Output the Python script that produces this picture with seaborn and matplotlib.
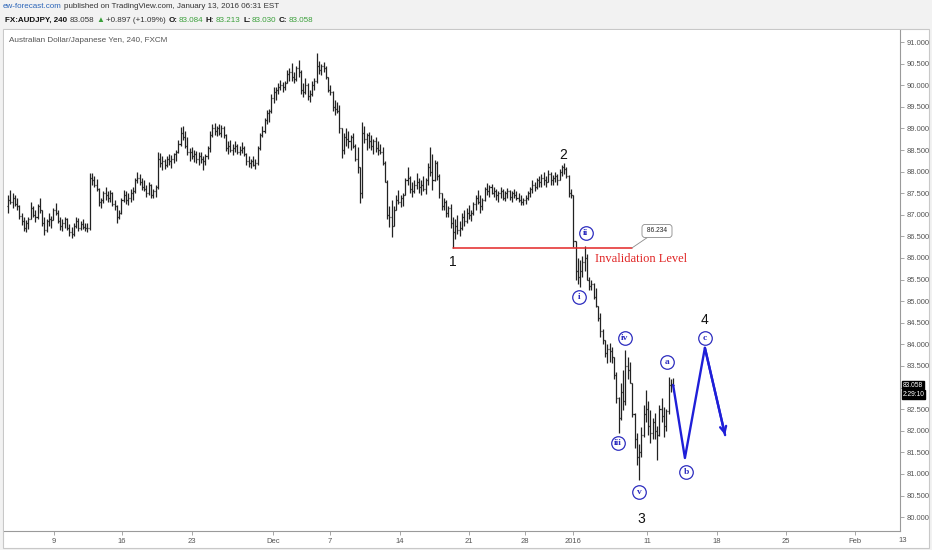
import numpy as np
import pandas as pd
import matplotlib.pyplot as plt
import matplotlib.transforms as mtransforms
from matplotlib.patches import Rectangle
import seaborn as sns

# --- AUDJPY 240 bars (one value per 4h bar) ---
highs = [
    87.45, 87.58, 87.50, 87.46, 87.40, 87.22, 87.05, 86.95, 86.88, 86.95,
    87.30, 87.20, 87.11, 87.25, 87.39, 87.12, 86.95, 86.90, 87.04, 86.98,
    87.15, 87.27, 87.10, 86.95, 86.90, 86.95, 86.92, 86.78, 86.72, 86.81,
    86.95, 86.92, 86.85, 86.90, 86.82, 86.80, 87.97, 87.97, 87.90, 87.82,
    87.62, 87.40, 87.55, 87.64, 87.55, 87.57, 87.52, 87.35, 87.22, 87.10,
    87.40, 87.57, 87.55, 87.50, 87.60, 87.64, 87.85, 88.00, 87.95, 87.85,
    87.80, 87.70, 87.76, 87.72, 87.60, 87.70, 88.45, 88.43, 88.35, 88.30,
    88.35, 88.40, 88.38, 88.43, 88.50, 88.72, 89.03, 89.05, 88.95, 88.80,
    88.55, 88.57, 88.50, 88.48, 88.45, 88.45, 88.35, 88.40, 88.60, 88.95,
    89.10, 89.12, 89.05, 89.10, 89.08, 89.05, 88.86, 88.70, 88.73, 88.65,
    88.70, 88.65, 88.60, 88.68, 88.60, 88.43, 88.35, 88.30, 88.35, 88.30,
    88.60, 88.90, 89.05, 89.25, 89.43, 89.45, 89.80, 89.96, 89.95, 90.05,
    90.12, 90.08, 90.10, 90.35, 90.40, 90.51, 90.30, 90.45, 90.58, 90.35,
    90.05, 90.17, 90.05, 89.90, 90.10, 90.17, 90.75, 90.55, 90.50, 90.54,
    90.45, 90.20, 90.00, 89.86, 89.65, 89.60, 89.54, 89.00, 88.90, 89.00,
    88.95, 88.85, 88.90, 88.65, 88.57, 88.11, 89.15, 89.05, 88.90, 88.92,
    88.85, 88.75, 88.80, 88.70, 88.65, 88.57, 88.25, 87.80, 87.20, 87.34,
    87.20, 87.45, 87.57, 87.45, 87.50, 87.85, 88.11, 87.90, 87.75, 87.80,
    87.97, 87.85, 87.80, 87.90, 87.85, 88.20, 88.57, 88.40, 88.27, 88.25,
    87.95, 87.50, 87.40, 87.34, 87.20, 87.25, 86.95, 86.90, 87.00, 86.85,
    87.05, 87.10, 87.15, 87.23, 87.10, 87.30, 87.45, 87.57, 87.45, 87.40,
    87.65, 87.74, 87.70, 87.72, 87.65, 87.60, 87.55, 87.64, 87.60, 87.55,
    87.62, 87.58, 87.55, 87.60, 87.55, 87.50, 87.46, 87.40, 87.45, 87.55,
    87.65, 87.80, 87.75, 87.85, 87.90, 87.95, 88.00, 87.90, 88.04, 87.98,
    87.92, 88.00, 87.95, 88.05, 88.15, 88.20, 88.10, 87.92, 87.60, 87.45,
    86.40, 86.00, 85.95, 86.05, 86.28, 86.10, 85.55, 85.49, 85.42, 85.30,
    84.90, 84.73, 84.35, 84.10, 84.00, 84.03, 83.95, 83.70, 83.35, 82.78,
    83.10, 83.40, 83.87, 83.71, 83.60, 83.10, 82.41, 81.95, 81.70, 82.09,
    82.60, 82.94, 82.70, 82.48, 82.30, 82.41, 82.10, 82.60, 82.76, 82.55,
    82.50, 83.25, 83.20, 83.213,
]
lows = [
    87.05, 87.25, 87.15, 87.20, 87.12, 86.90, 86.76, 86.62, 86.60, 86.68,
    86.90, 86.95, 86.83, 86.90, 87.05, 86.75, 86.53, 86.60, 86.75, 86.70,
    86.88, 87.00, 86.80, 86.65, 86.62, 86.70, 86.65, 86.50, 86.46, 86.52,
    86.70, 86.62, 86.65, 86.68, 86.62, 86.60, 86.65, 87.70, 87.64, 87.55,
    87.20, 87.16, 87.27, 87.35, 87.30, 87.30, 87.20, 87.11, 86.81, 86.90,
    87.02, 87.30, 87.25, 87.23, 87.30, 87.35, 87.50, 87.74, 87.70, 87.57,
    87.55, 87.42, 87.45, 87.39, 87.40, 87.41, 87.60, 88.10, 88.04, 88.05,
    88.10, 88.15, 88.08, 88.20, 88.25, 88.43, 88.60, 88.73, 88.55, 88.38,
    88.25, 88.30, 88.22, 88.20, 88.15, 88.20, 88.04, 88.15, 88.30, 88.45,
    88.80, 88.85, 88.82, 88.85, 88.80, 88.78, 88.48, 88.40, 88.45, 88.38,
    88.45, 88.40, 88.38, 88.42, 88.35, 88.15, 88.10, 88.08, 88.12, 88.05,
    88.15, 88.50, 88.80, 88.90, 89.10, 89.15, 89.35, 89.59, 89.65, 89.80,
    89.89, 89.85, 89.90, 90.05, 90.10, 90.10, 90.05, 90.10, 90.20, 89.80,
    89.73, 89.80, 89.65, 89.61, 89.75, 89.90, 90.05, 90.25, 90.24, 90.30,
    90.15, 89.85, 89.77, 89.40, 89.31, 89.35, 88.90, 88.31, 88.40, 88.60,
    88.55, 88.50, 88.55, 88.25, 87.97, 87.27, 87.40, 88.66, 88.50, 88.55,
    88.50, 88.40, 88.45, 88.38, 88.40, 88.15, 87.97, 86.90, 86.72, 86.49,
    86.75, 87.10, 87.25, 87.18, 87.20, 87.45, 87.70, 87.50, 87.41, 87.50,
    87.60, 87.50, 87.45, 87.55, 87.48, 87.70, 87.90, 87.57, 87.78, 87.80,
    87.40, 87.10, 87.12, 86.95, 86.95, 86.70, 86.23, 86.45, 86.55, 86.50,
    86.65, 86.75, 86.80, 86.90, 86.85, 87.00, 87.10, 87.25, 87.04, 87.10,
    87.33, 87.45, 87.42, 87.48, 87.41, 87.35, 87.30, 87.40, 87.35, 87.32,
    87.38, 87.35, 87.30, 87.40, 87.35, 87.30, 87.23, 87.23, 87.25, 87.35,
    87.41, 87.50, 87.55, 87.60, 87.65, 87.64, 87.70, 87.65, 87.75, 87.70,
    87.68, 87.75, 87.70, 87.80, 87.90, 87.95, 87.85, 87.41, 87.40, 86.25,
    85.50, 85.40, 85.33, 85.55, 85.70, 85.49, 85.26, 85.25, 85.05, 84.87,
    84.55, 84.17, 84.00, 83.70, 83.57, 83.60, 83.57, 83.20, 82.64, 81.95,
    82.25, 82.48, 82.60, 83.20, 83.10, 82.32, 81.60, 81.20, 80.86, 81.40,
    81.86, 82.20, 81.90, 81.72, 81.80, 81.80, 81.32, 81.88, 82.20, 81.86,
    82.00, 82.40, 82.90, 83.03,
]
closes = [
    87.35, 87.30, 87.40, 87.25, 87.20, 86.98, 86.85, 86.70, 86.80, 86.90,
    87.15, 87.00, 86.95, 87.20, 87.10, 86.80, 86.65, 86.85, 86.90, 86.88,
    87.10, 87.05, 86.85, 86.75, 86.80, 86.90, 86.70, 86.60, 86.55, 86.75,
    86.85, 86.70, 86.78, 86.72, 86.70, 86.70, 87.85, 87.80, 87.70, 87.60,
    87.30, 87.35, 87.50, 87.45, 87.40, 87.50, 87.25, 87.20, 86.95, 87.05,
    87.35, 87.45, 87.35, 87.40, 87.50, 87.55, 87.80, 87.85, 87.75, 87.65,
    87.60, 87.50, 87.70, 87.45, 87.55, 87.65, 88.30, 88.20, 88.25, 88.15,
    88.30, 88.25, 88.30, 88.40, 88.45, 88.65, 88.90, 88.80, 88.60, 88.45,
    88.45, 88.35, 88.40, 88.30, 88.35, 88.30, 88.25, 88.35, 88.55, 88.85,
    89.00, 88.95, 89.00, 88.90, 89.00, 88.85, 88.55, 88.60, 88.50, 88.55,
    88.60, 88.45, 88.50, 88.55, 88.40, 88.25, 88.20, 88.25, 88.15, 88.20,
    88.55, 88.85, 88.95, 89.20, 89.35, 89.40, 89.70, 89.85, 89.90, 89.95,
    90.00, 89.95, 90.05, 90.25, 90.30, 90.20, 90.15, 90.40, 90.30, 89.90,
    89.85, 90.00, 89.75, 89.80, 90.00, 90.10, 90.45, 90.35, 90.45, 90.40,
    90.20, 89.90, 89.85, 89.50, 89.45, 89.40, 89.00, 88.50, 88.80, 88.75,
    88.70, 88.80, 88.60, 88.30, 88.10, 87.50, 88.90, 88.75, 88.85, 88.70,
    88.60, 88.70, 88.55, 88.50, 88.45, 88.20, 87.75, 87.00, 86.95, 86.75,
    87.10, 87.35, 87.30, 87.40, 87.45, 87.80, 87.85, 87.60, 87.55, 87.70,
    87.75, 87.65, 87.70, 87.60, 87.80, 88.10, 88.00, 87.80, 88.20, 87.90,
    87.50, 87.20, 87.30, 87.05, 87.15, 86.80, 86.60, 86.75, 86.65, 86.70,
    86.95, 86.85, 87.05, 87.00, 87.05, 87.25, 87.40, 87.30, 87.20, 87.35,
    87.60, 87.55, 87.65, 87.50, 87.55, 87.45, 87.50, 87.55, 87.40, 87.50,
    87.55, 87.42, 87.50, 87.45, 87.40, 87.35, 87.30, 87.35, 87.40, 87.50,
    87.60, 87.70, 87.65, 87.80, 87.75, 87.85, 87.80, 87.75, 87.95, 87.80,
    87.85, 87.90, 87.80, 88.00, 88.10, 88.05, 87.90, 87.50, 87.45, 86.40,
    85.70, 85.55, 85.70, 85.90, 86.00, 85.50, 85.35, 85.40, 85.10, 84.90,
    84.60, 84.30, 84.10, 83.80, 83.90, 83.85, 83.70, 83.30, 82.75, 82.30,
    82.90, 82.70, 83.50, 83.40, 83.10, 82.40, 81.80, 81.40, 81.50, 81.90,
    82.40, 82.50, 82.10, 81.95, 82.20, 82.00, 81.90, 82.50, 82.35, 82.10,
    82.45, 83.05, 83.08, 83.058,
]
first_open = 87.20

# date labels on the bar axis (bar index where each day starts)
date_ticks = [20.3, 50.2, 81.1, 116.7, 141.9, 172.7, 203.1, 227.8, 248.9,
              281.5, 312.3, 342.7, 373.1]
date_labels = ["9", "16", "23", "Dec", "7", "14", "21", "28", "2016",
               "11", "18", "25", "Feb"]
price_ticks = np.arange(80.0, 91.01, 0.5)

# elliott wave annotations (bar index, price)
wave_bar = [293, 298.2, 307, 315.9]
wave_price = [83.06, 81.37, 83.92, 81.90]
minor_labels = ["i", "ii", "iii", "iv", "v", "a", "b", "c"]
minor_bar = [251.5, 254.6, 268.7, 271.8, 278.0, 290.3, 298.7, 307.0]
minor_price = [85.10, 86.58, 81.72, 84.15, 80.58, 83.59, 81.05, 84.15]
major_labels = ["1", "2", "3", "4"]
major_bar = [196, 244.5, 278.9, 307]
major_price = [85.91, 88.38, 79.96, 84.56]
invalidation = 86.234
invalidation_bars = [196, 274.9]
last_price = 83.058

df = pd.DataFrame({"high": highs, "low": lows, "close": closes})
df["open"] = [first_open] + closes[:-1]
df["high"] = df[["high", "open", "close"]].max(axis=1)
df["low"] = df[["low", "open", "close"]].min(axis=1)
df["bar"] = np.arange(len(df))

sns.set_style("white")
plt.rcParams["font.family"] = ["Liberation Sans", "DejaVu Sans"]

W, H = 932, 550
fig = plt.figure(figsize=(W / 100, H / 100), dpi=100, facecolor="#f2f2f2")


def px(x, y):
    return x / W, 1 - y / H


# white chart panel (behind the axes)
fig.patches.append(Rectangle(px(3, 548), 926 / W, 519 / H, transform=fig.transFigure,
                             fc="white", ec="#c8c8c8", lw=0.8, zorder=-5))

ax = fig.add_axes([4 / W, 1 - 531 / H, 896 / W, 501 / H])
ax.set_zorder(2)
ax.set_facecolor("white")
ax.set_xlim(-1.76, 392.95)
ax.set_ylim(79.68, 91.278)
for s in ["top", "left"]:
    ax.spines[s].set_visible(False)
for s in ["right", "bottom"]:
    ax.spines[s].set_color("#9a9a9a")
    ax.spines[s].set_linewidth(0.8)

# OHLC bars
bar_col = "#222222"
ax.vlines(df["bar"], df["low"], df["high"], color=bar_col, lw=0.9)
ax.hlines(df["open"], df["bar"] - 0.45, df["bar"], color=bar_col, lw=0.9)
ax.hlines(df["close"], df["bar"], df["bar"] + 0.45, color=bar_col, lw=0.9)

# axes ticks (83.000 sits under the last-price tag, as on the chart)
ax.yaxis.tick_right()
ax.set_yticks(price_ticks)
ax.set_yticklabels(["" if abs(v - 83.0) < 1e-9 else f"{v:.3f}" for v in price_ticks])
ax.set_xticks(date_ticks)
ax.set_xticklabels(date_labels)
ax.tick_params(axis="both", length=3, width=0.6, color="#999999",
               labelsize=5.5, labelcolor="#555555", pad=2)
ax.tick_params(axis="y", right=True, left=False)
ax.tick_params(axis="x", bottom=True)
fig.text(*px(903, 540), "13", fontsize=5.5, color="#555555", ha="center", va="center")

# invalidation level
ax.plot(invalidation_bars, [invalidation, invalidation], color="#e32626", lw=1.1)
ax.annotate(" 86.234 ", xy=(invalidation_bars[1], invalidation), xytext=(285.9, 86.625),
            fontsize=4.8, ha="center", va="center", color="#222222",
            bbox=dict(boxstyle="round,pad=0.45", fc="white", ec="#8a8a8a", lw=0.6),
            arrowprops=dict(arrowstyle="-", color="#8a8a8a", lw=0.6, shrinkA=0, shrinkB=0))
ax.text(258.6, 85.98, "Invalidation Level", color="#e02424", fontsize=9,
        family="Liberation Serif", va="center", ha="left")

# projected wave 4 path
blue = "#1f1fd8"
sns.lineplot(x=wave_bar, y=wave_price, ax=ax, color=blue, lw=1.7, sort=False,
             estimator=None)
ax.annotate("", xy=(wave_bar[-1], wave_price[-1]), xytext=(wave_bar[-2], wave_price[-2]),
            arrowprops=dict(arrowstyle="->", color=blue, lw=1.7, mutation_scale=11,
                            shrinkA=0, shrinkB=0))

# wave labels
circ = "#2d2dbf"
ax.scatter(minor_bar, minor_price, s=95, fc="white", ec=circ, lw=0.9, zorder=5)
for lab, b, p in zip(minor_labels, minor_bar, minor_price):
    ax.text(b, p, lab, ha="center", va="center", fontsize=6.8, color=circ,
            family="Liberation Serif", fontweight="bold", zorder=6)
for lab, b, p in zip(major_labels, major_bar, major_price):
    ax.text(b, p, lab, ha="center", va="center", fontsize=10, color="#111111")

# last price tags on the price scale
trans = mtransforms.blended_transform_factory(ax.transAxes, ax.transData)
tag = dict(boxstyle="square,pad=0.12", fc="black", ec="black")
ax.text(1.003, last_price, "83.058", transform=trans, fontsize=4.8, color="white",
        va="center", ha="left", bbox=tag)
ax.annotate("2:29:10", xy=(1.003, last_price), xycoords=trans, xytext=(0, -6.8),
            textcoords="offset points", fontsize=4.8, color="white", va="center",
            ha="left", bbox=tag)

# header texts, laid out one piece after the other
renderer = fig.canvas.get_renderer()


def chain(x0, y, pieces, size):
    x = x0
    for t, c, w, gap in pieces:
        txt = fig.text(*px(x, y), t, fontsize=size, color=c, fontweight=w, va="center")
        bb = txt.get_window_extent(renderer)
        x = bb.x1 + gap


fig.text(*px(9, 41), "Australian Dollar/Japanese Yen, 240, FXCM", fontsize=5.9,
         color="#555555", va="center")
chain(3, 7, [("ew-forecast.com", "#2a64b8", "normal", 2),
             ("published on TradingView.com, January 13, 2016 06:31 EST", "#333333",
              "normal", 0)], 5.8)
green = "#3a9f3a"
chain(5, 20, [
    ("FX:AUDJPY, 240", "#111111", "bold", 3),
    ("83.058", "#333333", "normal", 2),
    ("\u25b2", green, "normal", 1),
    ("+0.897 (+1.09%)", "#333333", "normal", 3),
    ("O:", "#111111", "bold", 1),
    ("83.084", green, "normal", 3),
    ("H:", "#111111", "bold", 1),
    ("83.213", green, "normal", 3),
    ("L:", "#111111", "bold", 1),
    ("83.030", green, "normal", 3),
    ("C:", "#111111", "bold", 1),
    ("83.058", green, "normal", 0),
], 5.8)

fig.savefig("out.png", dpi=100, facecolor=fig.get_facecolor())
